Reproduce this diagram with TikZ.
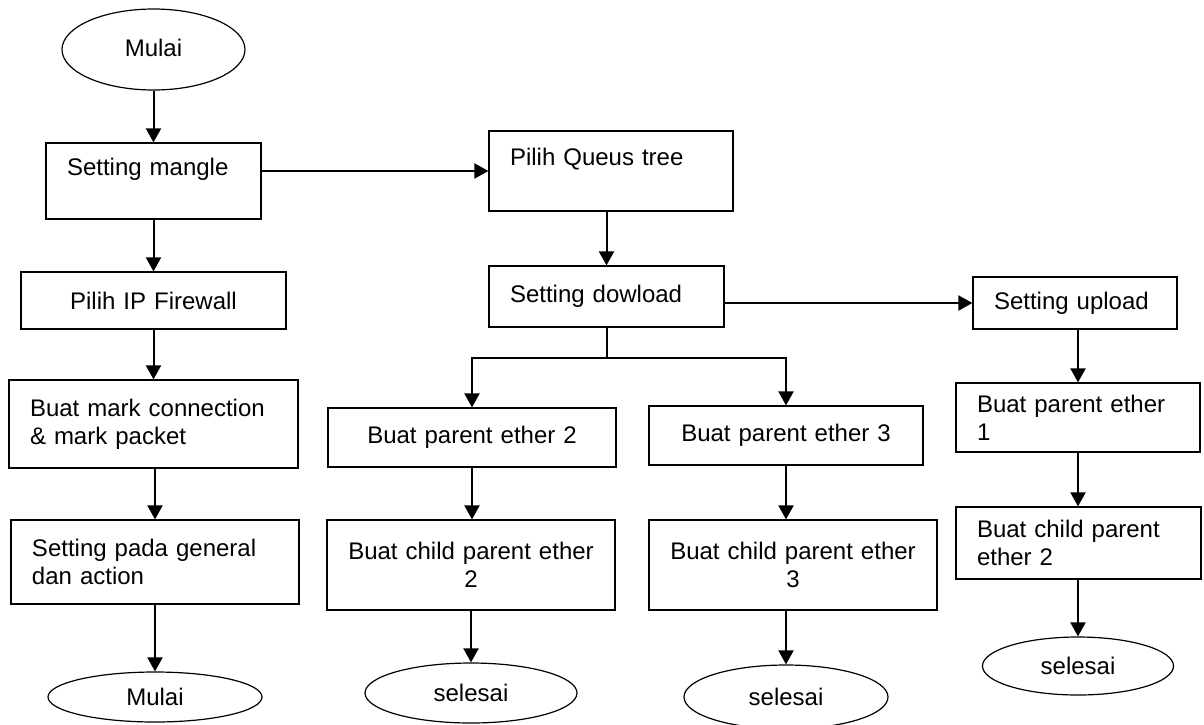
\documentclass[tikz,border=0pt]{standalone}
\usepackage{fontspec}
\setmainfont{Liberation Sans}
\usepackage{tikz}
\usetikzlibrary{shapes,arrows,arrows.meta,positioning,calc}
\tikzstyle{blok} = [draw,rectangle,line width=0.6pt,inner xsep=10.5pt,inner ysep=0pt]
\tikzstyle{kiri} = [blok,align=left]
\tikzstyle{tengah} = [blok,align=center]
\tikzstyle{oval} = [draw,ellipse,line width=0.6pt,inner sep=0pt]
\tikzstyle{panah} = [->,line width=1pt]

\begin{document}
\begin{tikzpicture}[x=0.5pt,y=-0.5pt,>={Triangle[length=7pt,width=7.5pt]},font=\fontsize{12}{14}\selectfont]
    \useasboundingbox (0,0) rectangle (1204,724);

    \node [oval,minimum width=91.5pt,minimum height=40.5pt] (mulai) at (153.5,49.5) {\raisebox{2pt}{Mulai}};
    \node [kiri,minimum width=107.5pt,minimum height=38pt,text width=86.5pt] (mangle) at (153.5,181) {Setting mangle\\\mbox{}};
    \node [tengah,minimum width=132.5pt,minimum height=28.5pt,text width=111.5pt] (ipfw) at (153.5,300.5) {Pilih IP Firewall};
    \node [kiri,minimum width=144.5pt,minimum height=44pt,text width=123.5pt] (mark) at (153.5,424) {Buat mark connection\\\& mark packet};
    \node [kiri,minimum width=144pt,minimum height=42pt,text width=123pt] (pada) at (155,562) {Setting pada general\\dan action};
    \node [oval,minimum width=107pt,minimum height=25pt] (mulai2) at (155,697) {Mulai};

    \node [kiri,minimum width=122pt,minimum height=40pt,text width=101pt] (queus) at (611,171) {Pilih Queus tree\\\mbox{}};
    \node [kiri,minimum width=117.5pt,minimum height=30.5pt,text width=96.5pt] (dowload) at (606.5,296.5) {Setting dowload};
    \node [tengah,minimum width=144pt,minimum height=29.5pt,text width=123pt] (par2) at (472,437.5) {Buat parent ether 2};
    \node [tengah,minimum width=137pt,minimum height=29.5pt,text width=116pt] (par3) at (786,435.5) {Buat parent ether 3};
    \node [tengah,minimum width=144pt,minimum height=45pt,text width=123pt] (child2) at (471,565) {Buat child parent ether\\2};
    \node [tengah,minimum width=144pt,minimum height=45pt,text width=123pt] (child3) at (793,565) {Buat child parent ether\\3};
    \node [oval,minimum width=106pt,minimum height=30pt] (sel1) at (471,693) {selesai};
    \node [oval,minimum width=102pt,minimum height=32pt] (sel2) at (786,697) {selesai};

    \node [kiri,minimum width=102pt,minimum height=26pt,text width=81pt] (upload) at (1075,303) {Setting upload};
    \node [kiri,minimum width=122pt,minimum height=34.5pt,text width=101pt] (par1) at (1078,417.5) {Buat parent ether\\1};
    \node [kiri,minimum width=122.5pt,minimum height=36pt,text width=101.5pt] (child1) at (1078.5,543) {Buat child parent\\ether 2};
    \node [oval,minimum width=95.5pt,minimum height=29pt] (sel3) at (1078,666) {selesai};

    \draw [panah] (mulai.south) -- (mangle.north);
    \draw [panah] (mangle.south) -- (ipfw.north);
    \draw [panah] (ipfw.south) -- (mark.north);
    \draw [panah] (pada.north |- mark.south) -- (pada.north);
    \draw [panah] (pada.south) -- (mulai2.north);

    \draw [panah] (queus.west -| mangle.east) -- (queus.west);
    \draw [panah] (dowload.north |- queus.south) -- (dowload.north);
    \draw [panah] (upload.west -| dowload.east) -- (upload.west);
    \draw [line width=1pt] (dowload.south) -- ++(0,30) coordinate (cabang);
    \draw [panah] (cabang) -| (par2.north);
    \draw [panah] (cabang) -| (par3.north);
    \draw [panah] (par2.south) -- (par2.south |- child2.north);
    \draw [panah] (child2.south) -- (sel1.north);
    \draw [panah] (par3.south) -- (par3.south |- child3.north);
    \draw [panah] (sel2.north |- child3.south) -- (sel2.north);

    \draw [panah] (par1.north |- upload.south) -- (par1.north);
    \draw [panah] (par1.south) -- (par1.south |- child1.north);
    \draw [panah] (sel3.north |- child1.south) -- (sel3.north);
  \end{tikzpicture}
\end{document}
